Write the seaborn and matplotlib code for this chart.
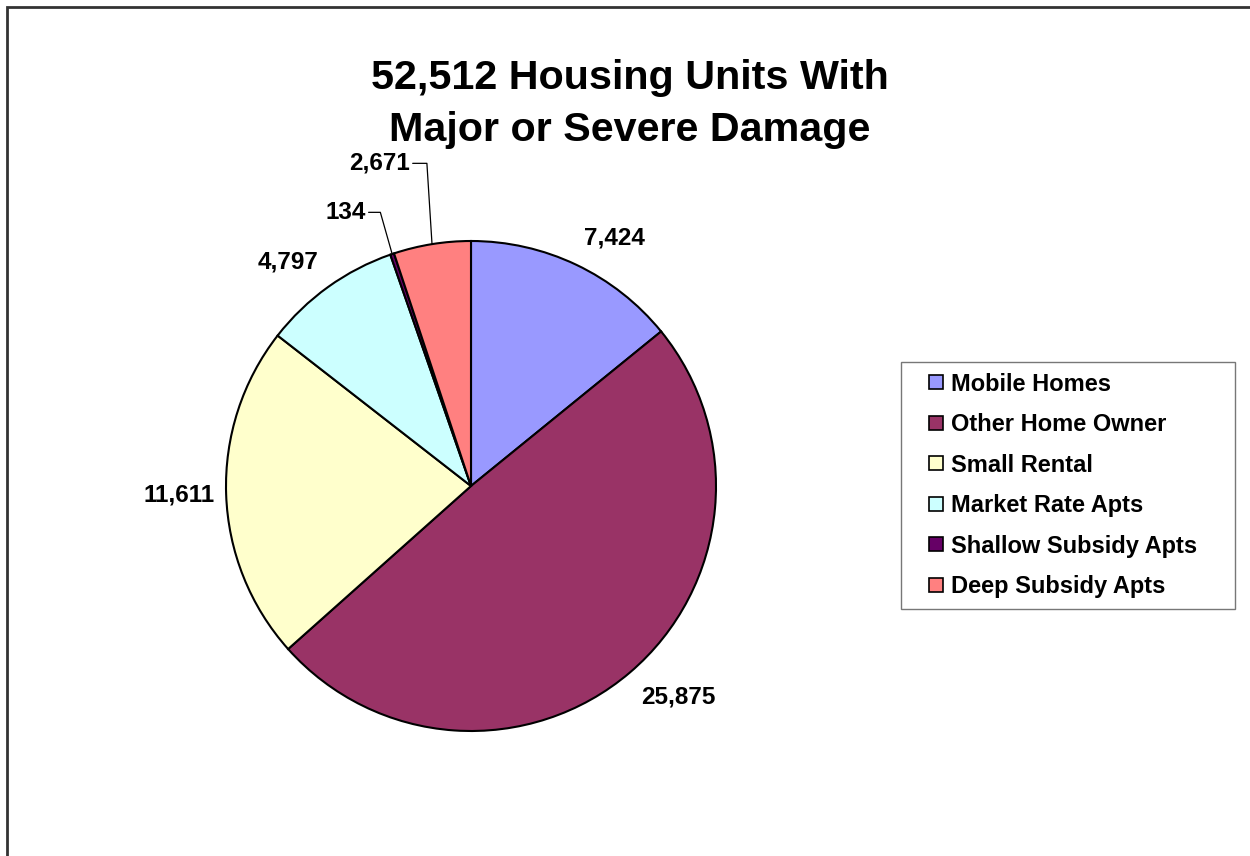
import numpy as np
import seaborn as sns
import matplotlib.pyplot as plt
from matplotlib.lines import Line2D
from matplotlib.patches import Rectangle

# data
categories = ["Mobile Homes", "Other Home Owner", "Small Rental",
              "Market Rate Apts", "Shallow Subsidy Apts", "Deep Subsidy Apts"]
units = [7424, 25875, 11611, 4797, 134, 2671]
colors = ["#9999FF", "#993366", "#FFFFCC", "#CCFFFF", "#660066", "#FF8080"]
title = "52,512 Housing Units With\nMajor or Severe Damage"

sns.set_theme(style="white")
plt.rcParams["font.family"] = ["Liberation Sans", "DejaVu Sans"]
plt.rcParams["text.color"] = "black"

W, H = 1250, 856
fig = plt.figure(figsize=(W / 100, H / 100), dpi=100)

# pie axes: centre (471, 486) px, radius 245 px
cx, cy, r = 471, 486, 245
ax = fig.add_axes([(cx - r) / W, (H - cy - r) / H, 2 * r / W, 2 * r / H])
wedges, _ = ax.pie(units, colors=colors, startangle=90, counterclock=False,
                   wedgeprops=dict(edgecolor="black", linewidth=1.5))
ax.set_xlim(-1, 1)
ax.set_ylim(-1, 1)
ax.set_aspect("equal")
ax.axis("off")
for w in wedges:
    w.set_clip_on(False)

# value labels
lab_font = dict(fontsize=17.5, fontweight="bold", color="black")
for i, w in enumerate(wedges):
    if units[i] < 3000:
        continue
    mid = np.deg2rad((w.theta1 + w.theta2) / 2)
    ex, ey = np.cos(mid), np.sin(mid)
    ha = "left" if ex > 0 else "right"
    if abs(ey) < 0.3:
        va, rad = "center", 1.045
    else:
        va, rad = ("bottom" if ey > 0 else "top"), 1.07
    ax.text(rad * ex, rad * ey, f"{units[i]:,}", ha=ha, va=va,
            clip_on=False, **lab_font)

# small slices with leader lines (label anchor, bend point in data units)
leaders = {4: ((-0.43, 1.117), (-0.37, 1.117)),
           5: ((-0.25, 1.317), (-0.18, 1.317))}
for i, (txt_xy, bend) in leaders.items():
    w = wedges[i]
    mid = np.deg2rad((w.theta1 + w.theta2) / 2)
    ex, ey = np.cos(mid), np.sin(mid)
    ax.plot([txt_xy[0] + 0.012, bend[0], ex], [txt_xy[1], bend[1], ey],
            color="black", linewidth=0.9, clip_on=False)
    ax.text(txt_xy[0], txt_xy[1], f"{units[i]:,}", ha="right", va="center",
            clip_on=False, **lab_font)

fig.text(630 / W, 1 - 104 / H, title, ha="center", va="center", color="black",
         fontsize=29.7, fontweight="bold", linespacing=1.47)

handles = [Line2D([], [], linestyle="none", marker="s", markersize=10,
                  markerfacecolor=c, markeredgecolor="black", markeredgewidth=1.2)
           for c in colors]
leg = fig.legend(handles, categories, loc="upper left", mode="expand",
                 bbox_to_anchor=(901 / W, 1 - 610 / H, 334 / W, 248 / H),
                 prop=dict(family=["Liberation Sans", "DejaVu Sans"], weight="bold", size=17),
                 frameon=True, fancybox=False, edgecolor="#555555",
                 handlelength=2.08, handletextpad=-0.41,
                 labelspacing=0.74, borderpad=0.45, borderaxespad=0)
leg.get_frame().set_linewidth(1.0)

# outer chart-area frame
fig.patches.append(Rectangle((7 / W, -0.05), 1.2, 1 - 7 / H + 0.05,
                             transform=fig.transFigure, fill=False,
                             edgecolor="#333333", linewidth=2))

fig.savefig("out.png", dpi=100)
